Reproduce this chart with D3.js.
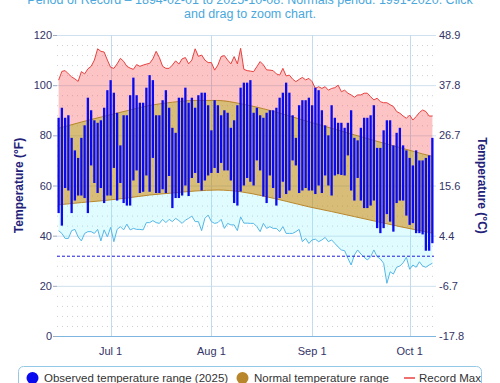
<!DOCTYPE html>
<html>
<head>
<meta charset="utf-8">
<script src="https://cdn.jsdelivr.net/npm/d3@7"></script>
<style>
  html, body { margin: 0; padding: 0; background: #fff; }
  svg { display: block; font-family: "Liberation Sans", Arial, sans-serif; }
</style>
</head>
<body>
<svg id="chart" width="500" height="383"></svg>
<script>
// ---------------- DATA ----------------
const firstDay = "2025-06-15";
const obsHigh = [87,91,87,88,79,74,71,79,84,95, 90,86,85,86,91,98,102,97,89,76,
  88,88,96,103,96,93,93,99,104,102, 88,88,94,98,91,83,81,95,95,99,
  93,95,91,96,97,97,92,82,94,92, 88,90,89,83,86,92,99,101,101,102,
  89,91,88,87,89,90,90,91,95,97, 101,97,88,79,92,94,94,95,92,99,
  98,90,84,80,92,87,85,85,83,85, 90,79,78,83,87,87,88,92,75,75,
  82,86,86,76,81,83,76,74,71,68, 74,70,70,71,72,79];
const obsLow = [49,44,59,58,49,54,56,56,55,49, 68,61,57,59,53,56,56,67,54,61,
  53,52,52,62,66,57,57.5,64,57.5,71, 57,57,58.5,57,63.8,51,55,55,56,60,
  55.8,63,65,61,58,62,64,65,67,65, 69,66,66,62,53,52,57.6,60,63,61.5,
  60,70,66,55.6,53,64,59,52,55,61.5, 56.6,58,70,68,57,58,59,58,58,56.6,
  60,57,64,60,56,64,64.5,64.2,64,72, 58,54,63,54,51,51,52,54,43,41,
  43,48.6,45.6,41.6,53,54,54,48,44.3,45, 41,41,40.5,34,34,37];
const recordMax = [102,105.5,105.8,104.5,103.3,102.5,101.5,105.4,104.5,106.5,
  107.5,110,114.5,113.5,113.2,110,107.1,106.7,108.5,110.7,
  109.5,107.5,106.8,106.3,108.2,107.5,108,108.4,108.7,110.5,
  113.5,111,107.5,106.7,106.7,108,109.7,108.4,110.5,111,
  108.5,110,114.5,111.5,112,110,109,109,106,108,
  111.4,111.8,110,108.5,111.4,108.5,114.7,106.3,105.8,105.6,
  105.4,107.4,109.4,108.1,106.1,106,105.8,104.5,104,106.7,
  103.7,104,102.4,101.4,102.3,103.1,102.1,102.7,101.4,98.7,
  99.4,98.7,99.4,98,98.7,99,100,97.4,98,96.8,
  96.1,95.2,96.1,96.1,96.8,96.8,95.4,94.1,94.8,93.4,
  93,93,92.2,91.5,89.5,88.8,87.7,86.8,88.1,86.1,
  87.5,89.1,90.1,89.5,87.7,87.7];
const recordMin = [42,40.9,38.9,38.9,42,42.5,39.5,37.9,40.9,41.6,
  41.6,40.9,42.5,37.9,42.3,39.5,43.3,37.6,42.5,43.6,
  42.3,44.6,42.3,42.9,42.5,42.5,42.3,45.2,45.2,46,
  45.2,44.9,46.5,45.2,46.5,45.6,46.9,46,44.9,46.2,
  46.9,47.8,45.6,45.6,42,46.9,48.2,45.6,44.9,45.2,
  46.5,42.9,44.9,44.3,44.3,42,47.5,45,45,44.9,
  44.9,43.6,41.6,44.9,42.9,43.6,42.9,42.9,41.6,43.6,
  40.9,40.9,40.9,41.6,42.5,37.6,38.9,36.9,38.3,38.6,
  37.6,38.3,39.3,37.6,38.3,36.9,35.5,34.3,34,31,
  28.3,32.3,34.3,32.7,31.4,30.3,31.6,34.3,31.6,30.7,
  29,21,25.6,24.7,27.4,27.9,29.2,31.4,26.6,28.3,
  27.4,29.6,27.9,27.4,28.3,29];
const normalDates = ["2025-06-15","2025-06-22","2025-06-29","2025-07-06","2025-07-13","2025-07-20",
  "2025-07-27","2025-08-03","2025-08-10","2025-08-17","2025-08-24","2025-08-31","2025-09-07",
  "2025-09-14","2025-09-21","2025-09-28","2025-10-05","2025-10-08"];
const normalHigh = [82.8,85.3,87.6,89.8,91.9,93.2,93.9,93.9,92.6,90.6,88.1,85.4,82.8,80.2,77.6,75.1,72.6,71.6];
const normalLow  = [52.3,53.2,54.0,55.0,56.2,57.0,57.8,58.2,57.5,55.8,53.7,51.5,49.6,47.6,45.6,43.6,41.8,41.0];
const fTicks = [0,20,40,60,80,100,120];
const cTickLabels = ["-17.8","-6.7","4.4","15.6","26.7","37.8","48.9"];
const monthTicks = ["2025-07-01","2025-08-01","2025-09-01","2025-10-01"];
const monthLabels = ["Jul 1","Aug 1","Sep 1","Oct 1"];
const freezing = 32;
const titleLines = ["Period of Record \u2013 1894-02-01 to 2025-10-08. Normals period: 1991-2020. Click",
  "and drag to zoom chart."];
const legendItems = ["Observed temperature range (2025)","Normal temperature range","Record Max"];

// ---------------- CHART ----------------
const svg = d3.select("#chart");
const parse = d3.utcParse("%Y-%m-%d");
const day0 = parse(firstDay);
const days = obsHigh.map((_, i) => d3.utcDay.offset(day0, i));
const L = 57, R = 434, T = 35, B = 336;

const x = d3.scaleUtc()
  .domain([d3.utcHour.offset(days[0], -12), d3.utcHour.offset(days[days.length - 1], 12)])
  .range([L, R]);
const y = d3.scaleLinear().domain([0, 120]).range([B, T]);

const textCol = "#333366";

// title (top line is partly above the frame, as in the reference)
svg.selectAll("text.title").data(titleLines).join("text")
  .attr("class", "title")
  .attr("x", 250).attr("y", (d, i) => 4 + i * 14)
  .attr("text-anchor", "middle")
  .attr("font-size", 12.5).attr("fill", "#4aa8dc")
  .text(d => d);

// minor dotted grid (every 4 F)
const minor = d3.range(0, 121, 4).filter(v => v % 20 !== 0);
svg.append("g").selectAll("line").data(minor).join("line")
  .attr("x1", L).attr("x2", R)
  .attr("y1", d => y(d) + 0.5).attr("y2", d => y(d) + 0.5)
  .attr("stroke", "#cdcdd8").attr("stroke-dasharray", "1,4");

// major grid
svg.append("g").selectAll("line").data(fTicks.filter(v => v > 0)).join("line")
  .attr("x1", L).attr("x2", R + 2)
  .attr("y1", d => y(d) + 0.5).attr("y2", d => y(d) + 0.5)
  .attr("stroke", "#cfe0ee");

// vertical month grid
svg.append("g").selectAll("line").data(monthTicks).join("line")
  .attr("x1", d => Math.round(x(parse(d))) + 0.5).attr("x2", d => Math.round(x(parse(d))) + 0.5)
  .attr("y1", T).attr("y2", B)
  .attr("stroke", "#c2dbee");

// series tables
const rows = days.map((d, i) => ({ d, hi: obsHigh[i], lo: obsLow[i], rmax: recordMax[i], rmin: recordMin[i] }));
const nrows = normalDates.map((s, i) => ({ d: parse(s), hi: normalHigh[i], lo: normalLow[i] }));
const nHiAt = d3.scaleUtc().domain(nrows.map(r => r.d)).range(nrows.map(r => r.hi));
const nLoAt = d3.scaleUtc().domain(nrows.map(r => r.d)).range(nrows.map(r => r.lo));

// record max area (above normal high)
svg.append("path").datum(rows)
  .attr("fill", "rgba(245,70,70,0.32)")
  .attr("d", d3.area().x(r => x(r.d)).y0(r => y(nHiAt(r.d))).y1(r => y(r.rmax)));
// record min area (below normal low)
svg.append("path").datum(rows)
  .attr("fill", "rgba(120,240,250,0.22)")
  .attr("d", d3.area().x(r => x(r.d)).y0(r => y(r.rmin)).y1(r => y(nLoAt(r.d))));
// normal band
svg.append("path").datum(nrows)
  .attr("fill", "rgba(184,134,11,0.55)")
  .attr("d", d3.area().curve(d3.curveMonotoneX).x(r => x(r.d)).y0(r => y(r.lo)).y1(r => y(r.hi)));
["hi", "lo"].forEach(k => {
  svg.append("path").datum(nrows)
    .attr("fill", "none").attr("stroke", "#b8862b").attr("stroke-width", 1)
    .attr("d", d3.line().curve(d3.curveMonotoneX).x(r => x(r.d)).y(r => y(r[k])));
});

// record lines
svg.append("path").datum(rows)
  .attr("fill", "none").attr("stroke", "#e8413f").attr("stroke-width", 1)
  .attr("d", d3.line().x(r => x(r.d)).y(r => y(r.rmax)));
svg.append("path").datum(rows)
  .attr("fill", "none").attr("stroke", "#55b7e8").attr("stroke-width", 1)
  .attr("d", d3.line().x(r => x(r.d)).y(r => y(r.rmin)));

// freezing line
svg.append("line")
  .attr("x1", L).attr("x2", R)
  .attr("y1", y(freezing) + 0.5).attr("y2", y(freezing) + 0.5)
  .attr("stroke", "#2020e0").attr("stroke-dasharray", "3,2");

// observed bars
svg.append("g").selectAll("rect").data(rows).join("rect")
  .attr("x", r => x(r.d) - 1.15).attr("width", 2.3)
  .attr("y", r => y(r.hi)).attr("height", r => y(r.lo) - y(r.hi))
  .attr("fill", "#0a0aee");

// bottom axis line
svg.append("line").attr("x1", L).attr("x2", R + 2)
  .attr("y1", B + 0.5).attr("y2", B + 0.5).attr("stroke", "#7fb6df");

// left axis labels & ticks
svg.append("g").selectAll("text").data(fTicks).join("text")
  .attr("x", 52).attr("y", d => y(d) + 4)
  .attr("text-anchor", "end").attr("font-size", 11).attr("fill", textCol)
  .text(d => d);
svg.append("g").selectAll("line").data(fTicks).join("line")
  .attr("x1", 53).attr("x2", L)
  .attr("y1", d => y(d) + 0.5).attr("y2", d => y(d) + 0.5)
  .attr("stroke", "#a0a8c0");

// right axis labels
svg.append("g").selectAll("text").data(fTicks).join("text")
  .attr("x", 439).attr("y", d => y(d) + 4)
  .attr("text-anchor", "start").attr("font-size", 11).attr("fill", textCol)
  .text((d, i) => cTickLabels[i]);

// x axis labels
svg.append("g").selectAll("text").data(monthTicks).join("text")
  .attr("x", d => x(parse(d))).attr("y", 355)
  .attr("text-anchor", "middle").attr("font-size", 11).attr("fill", textCol)
  .text((d, i) => monthLabels[i]);

// axis titles
svg.append("text")
  .attr("transform", `translate(23,${(T + B) / 2}) rotate(-90)`)
  .attr("text-anchor", "middle").attr("font-size", 12).attr("font-weight", "bold")
  .attr("fill", "#22227a").text("Temperature (\u00B0F)");
svg.append("text")
  .attr("transform", `translate(478,${(T + B) / 2}) rotate(90)`)
  .attr("text-anchor", "middle").attr("font-size", 12).attr("font-weight", "bold")
  .attr("fill", "#22227a").text("Temperature (\u00B0C)");

// legend
svg.append("rect").attr("x", 18.5).attr("y", 366.5).attr("width", 463).attr("height", 40)
  .attr("rx", 5).attr("fill", "none").attr("stroke", "#96c8e8");
const ly = 378;
svg.append("circle").attr("cx", 32.5).attr("cy", ly).attr("r", 6).attr("fill", "#0a0aee");
svg.append("circle").attr("cx", 242.5).attr("cy", ly).attr("r", 6).attr("fill", "#b8862b");
svg.append("line").attr("x1", 404).attr("x2", 415).attr("y1", ly).attr("y2", ly)
  .attr("stroke", "#e8413f").attr("stroke-width", 1.5);
const lx = [44, 254, 419];
svg.append("g").selectAll("text").data(legendItems).join("text")
  .attr("x", (d, i) => lx[i]).attr("y", ly + 4)
  .attr("font-size", 11.5).attr("fill", "#333")
  .text(d => d);
</script>
</body>
</html>
